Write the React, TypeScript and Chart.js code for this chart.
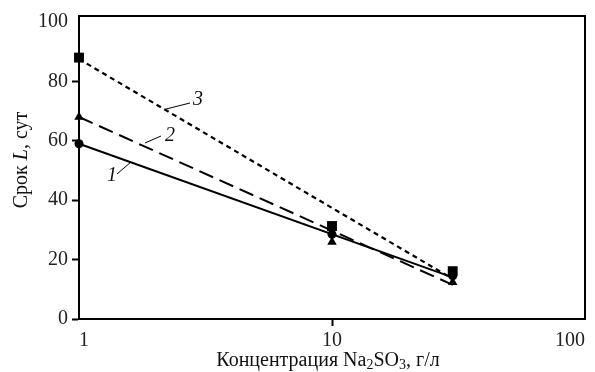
import React, { useEffect, useRef } from "react";
import { Chart, registerables } from "chart.js";

Chart.register(...registerables);

const xPoints = [1, 10, 30];
const series1 = [59, 28.5, 14.5]; // circles
const series2 = [68, 25.9, 12.4]; // triangles
const series3 = [88, 31.3, 16.1]; // squares

const lineX = [1, 30];
const fit1 = [59, 14];
const fit2 = [68, 11.5];
const fit3 = [87.5, 13.5];

const yTicks = [0, 20, 40, 60, 80, 100];
const xTicks = [1, 10, 100];
const curveLabels = ["1", "2", "3"];

const FONT = "'Liberation Serif', 'Times New Roman', serif";

const toPts = (xs: number[], ys: number[]) => xs.map((x, i) => ({ x, y: ys[i] }));

export default function App() {
  const ref = useRef<HTMLCanvasElement | null>(null);

  useEffect(() => {
    if (!ref.current) return;
    const deco = {
      id: "deco",
      beforeDatasetsDraw(chart: any) {
        const ctx = chart.ctx;
        const a = chart.chartArea;
        ctx.save();
        ctx.strokeStyle = "#000";
        ctx.lineWidth = 2;
        ctx.strokeRect(a.left, a.top, a.right - a.left, a.bottom - a.top);
        ctx.restore();
      },
      afterDraw(chart: any) {
        const ctx = chart.ctx;
        ctx.save();
        // curve labels with leader lines
        const labs = [
          { t: curveLabels[0], lx: 112, ly: 176, l: [117, 174, 131, 162] },
          { t: curveLabels[1], lx: 170, ly: 136, l: [145, 143, 161, 136] },
          { t: curveLabels[2], lx: 198, ly: 100, l: [166, 109, 190, 103] },
        ];
        ctx.strokeStyle = "#000";
        ctx.lineWidth = 1;
        ctx.font = `italic 20px ${FONT}`;
        ctx.fillStyle = "#111";
        ctx.textAlign = "center";
        ctx.textBaseline = "middle";
        for (const lb of labs) {
          ctx.beginPath();
          ctx.moveTo(lb.l[0], lb.l[1]);
          ctx.lineTo(lb.l[2], lb.l[3]);
          ctx.stroke();
          ctx.fillText(lb.t, lb.lx, lb.ly);
        }

        // x title with subscripts
        const parts: [string, boolean][] = [
          ["Концентрация Na", false],
          ["2", true],
          ["SO", false],
          ["3", true],
          [", г/л", false],
        ];
        const big = `20px ${FONT}`;
        const small = `14px ${FONT}`;
        let w = 0;
        for (const [s, sub] of parts) {
          ctx.font = sub ? small : big;
          w += ctx.measureText(s).width;
        }
        let x = 328 - w / 2;
        const base = 366;
        ctx.textAlign = "left";
        ctx.textBaseline = "alphabetic";
        for (const [s, sub] of parts) {
          ctx.font = sub ? small : big;
          ctx.fillText(s, x, sub ? base + 3 : base);
          x += ctx.measureText(s).width;
        }

        // y title rotated
        const yparts: [string, boolean][] = [
          ["Срок ", false],
          ["L", true],
          [", сут", false],
        ];
        let yw = 0;
        for (const [s, it] of yparts) {
          ctx.font = it ? `italic 20px ${FONT}` : big;
          yw += ctx.measureText(s).width;
        }
        ctx.translate(27, 160);
        ctx.rotate(-Math.PI / 2);
        let px = -yw / 2;
        for (const [s, it] of yparts) {
          ctx.font = it ? `italic 20px ${FONT}` : big;
          ctx.fillText(s, px, 0);
          px += ctx.measureText(s).width;
        }
        ctx.restore();
      },
    };

    const chart = new Chart(ref.current, {
      type: "scatter",
      data: {
        datasets: [
          {
            label: "fit1",
            data: toPts(lineX, fit1),
            showLine: true,
            borderColor: "#000",
            borderWidth: 2,
            pointRadius: 0,
            clip: false,
          },
          {
            label: "fit2",
            data: toPts(lineX, fit2),
            showLine: true,
            borderColor: "#000",
            borderWidth: 2,
            borderDash: [15, 7],
            pointRadius: 0,
            clip: false,
          },
          {
            label: "fit3",
            data: toPts(lineX, fit3),
            showLine: true,
            borderColor: "#000",
            borderWidth: 2.2,
            borderDash: [5, 4],
            pointRadius: 0,
            clip: false,
          },
          {
            label: "s1",
            data: toPts(xPoints, series1),
            pointStyle: "circle",
            pointRadius: 4.5,
            backgroundColor: "#000",
            borderColor: "#000",
            borderWidth: 0,
            clip: false,
          },
          {
            label: "s2",
            data: toPts(xPoints, series2),
            pointStyle: "triangle",
            pointRadius: 5.5,
            backgroundColor: "#000",
            borderColor: "#000",
            borderWidth: 0,
            clip: false,
          },
          {
            label: "s3",
            data: toPts(xPoints, series3),
            pointStyle: "rect",
            pointRadius: 7,
            backgroundColor: "#000",
            borderColor: "#000",
            borderWidth: 0,
            clip: false,
          },
        ],
      },
      options: {
        animation: false,
        responsive: false,
        maintainAspectRatio: false,
        layout: { padding: { top: 14, right: 10, left: 0, bottom: 0 } },
        plugins: { legend: { display: false }, tooltip: { enabled: false } },
        scales: {
          x: {
            type: "logarithmic",
            min: 1,
            max: 100,
            afterBuildTicks: (s: any) => {
              s.ticks = xTicks.map((v) => ({ value: v }));
            },
            afterFit: (s: any) => {
              s.height = 53;
            },
            border: { display: true, color: "#000", width: 2 },
            grid: {
              drawOnChartArea: false,
              drawTicks: true,
              tickLength: 7,
              tickWidth: 2,
              tickColor: (c: any) => (c.tick && c.tick.value === 10 ? "#000" : "rgba(0,0,0,0)"),
            },
            ticks: {
              align: "inner",
              autoSkip: false,
              maxRotation: 0,
              padding: 3,
              color: "#222",
              font: { family: FONT, size: 20 },
              callback: (v: any) => String(v),
            },
          },
          y: {
            min: 0,
            max: 102,
            afterBuildTicks: (s: any) => {
              s.ticks = yTicks.map((v) => ({ value: v }));
            },
            afterFit: (s: any) => {
              s.width = 79;
            },
            border: { display: true, color: "#000", width: 2 },
            grid: {
              drawOnChartArea: false,
              drawTicks: true,
              tickLength: 7,
              tickWidth: 2,
              tickColor: (c: any) => (c.tick && c.tick.value === 100 ? "rgba(0,0,0,0)" : "#000"),
            },
            ticks: {
              padding: 4,
              color: "#222",
              font: { family: FONT, size: 20 },
              callback: (v: any) => String(v),
            },
          },
        },
      },
      plugins: [deco],
    } as any);
    return () => chart.destroy();
  }, []);

  return (
    <div style={{ position: "fixed", left: 0, top: 0, width: 595, height: 372, background: "#fff" }}>
      <canvas ref={ref} width={595} height={372} style={{ display: "block", width: 595, height: 372 }} />
    </div>
  );
}
